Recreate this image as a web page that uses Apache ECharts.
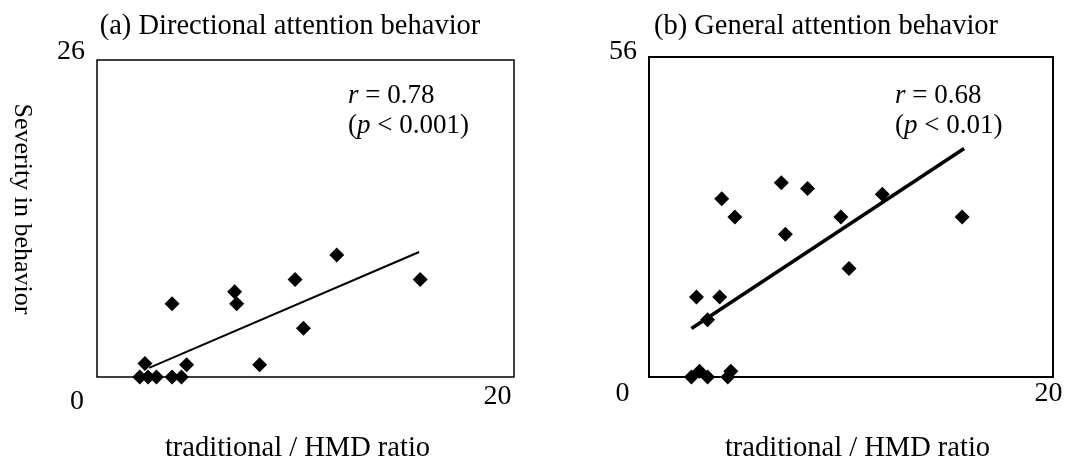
<!DOCTYPE html>
<html>
<head>
<meta charset="utf-8">
<script src="https://cdn.jsdelivr.net/npm/echarts@6/dist/echarts.min.js"></script>
<style>
html, body { margin: 0; padding: 0; background: #fff; }
#chart { width: 1067px; height: 468px; }
</style>
</head>
<body>
<div id="chart"></div>
<script>
// ---- data ----
const panelTitles = ['(a) Directional attention behavior', '(b) General attention behavior'];
const xAxisTitle = 'traditional / HMD ratio';
const yAxisTitle = 'Severity in behavior';
const xMax = 20;
const yMaxA = 26;
const yMaxB = 56;

// (a) directional attention behavior
const aX = [3.6, 6.6, 6.7, 9.5, 11.5, 15.5, 9.9, 7.8, 4.3, 2.3, 2.05, 2.45, 2.85, 3.6, 4.05];
const aY = [6, 7, 6, 8, 10, 8, 4, 1, 1, 1.1, 0, 0, 0, 0, 0];
const aTrendX = [2.5, 15.45];
const aTrendY = [0.75, 10.25];
const aStats = ['0.78', '< 0.001'];

// (b) general attention behavior
const bX = [2.35, 3.5, 2.9, 3.6, 4.25, 6.55, 7.85, 6.75, 9.5, 11.55, 9.9, 15.5, 2.1, 2.5, 2.9, 3.9, 4.05];
const bY = [14, 14, 10, 31.2, 28, 34, 33, 25, 28, 32, 19, 28, 0, 1, 0, 0, 1];
const bTrendX = [2.1, 15.6];
const bTrendY = [8.5, 40];
const bStats = ['0.68', '< 0.01'];

// ---- chart ----
const FONT = 'Liberation Serif';
const FS = 28;
const FS_TITLE = 28.5;
const FS_Y = 26;
const FS_STAT = 27;
const zip = (xs, ys) => xs.map((x, i) => [x, ys[i]]);

function xAxisFor(gi, zeroPad, maxPad, margin, namePad) {
  return {
    gridIndex: gi, type: 'value', min: 0, max: xMax, interval: xMax,
    splitLine: { show: false }, axisTick: { show: false }, axisLine: { show: false },
    axisLabel: {
      margin: margin, color: '#000', fontFamily: FONT, fontSize: FS,
      formatter: v => v === 0 ? '{z|0}' : '{m|' + v + '}',
      rich: {
        z: { fontFamily: FONT, fontSize: FS, color: '#000', padding: zeroPad },
        m: { fontFamily: FONT, fontSize: FS, color: '#000', padding: maxPad }
      }
    },
    name: xAxisTitle, nameLocation: 'middle', nameGap: 57,
    nameTextStyle: { fontFamily: FONT, fontSize: FS_TITLE, color: '#000', padding: namePad }
  };
}
function yAxisFor(gi, max, pad) {
  return {
    gridIndex: gi, type: 'value', min: 0, max: max, interval: max,
    splitLine: { show: false }, axisTick: { show: false }, axisLine: { show: false },
    axisLabel: {
      margin: 12, color: '#000', fontFamily: FONT, fontSize: FS,
      formatter: v => v === max ? '{t|' + v + '}' : '',
      rich: { t: { fontFamily: FONT, fontSize: FS, color: '#000', padding: pad } }
    }
  };
}
function statText(stats) {
  return '{i|r} = ' + stats[0] + '\n({i|p} ' + stats[1] + ')';
}
function statGraphic(x, y, stats) {
  return {
    type: 'text', x: x, y: y, z: 10,
    style: {
      text: statText(stats), fontFamily: FONT, fontSize: FS_STAT, fill: '#000',
      textAlign: 'left', textVerticalAlign: 'top', lineHeight: 30,
      rich: { i: { fontFamily: FONT, fontSize: FS_STAT, fontStyle: 'italic', fill: '#000', lineHeight: 30 } }
    }
  };
}

const chart = echarts.init(document.getElementById('chart'), null, { renderer: 'canvas' });
chart.setOption({
  animation: false,
  backgroundColor: '#fff',
  grid: [
    { left: 97, top: 60, width: 417, height: 322, show: true, borderColor: '#000', borderWidth: 1.5, backgroundColor: 'transparent' },
    { left: 649, top: 57, width: 404, height: 325, show: true, borderColor: '#000', borderWidth: 2, backgroundColor: 'transparent' }
  ],
  xAxis: [
    xAxisFor(0, [5, 40, 0, 0], [0, 33, 0, 0], 6, [0, 16, 0, 0]),
    xAxisFor(1, [0, 53, 0, 0], [0, 9, 0, 0], 3, [0, 0, 0, 13])
  ],
  yAxis: [
    yAxisFor(0, yMaxA, [0, 0, 16, 0]),
    yAxisFor(1, yMaxB, [0, 0, 10, 0])
  ],
  graphic: [
    { type: 'text', x: 290, y: 27, style: { text: panelTitles[0], fontFamily: FONT, fontSize: FS_TITLE, fill: '#000', textAlign: 'center', textVerticalAlign: 'middle' } },
    { type: 'text', x: 826, y: 27, style: { text: panelTitles[1], fontFamily: FONT, fontSize: FS_TITLE, fill: '#000', textAlign: 'center', textVerticalAlign: 'middle' } },
    { type: 'text', x: 22, y: 209, rotation: -Math.PI / 2, style: { text: yAxisTitle, fontFamily: FONT, fontSize: FS_Y, fill: '#000', textAlign: 'center', textVerticalAlign: 'middle' } },
    statGraphic(348, 81, aStats),
    statGraphic(895, 81, bStats)
  ],
  series: [
    { type: 'scatter', xAxisIndex: 0, yAxisIndex: 0, data: zip(aX, aY), symbol: 'diamond', symbolSize: 15, itemStyle: { color: '#000', opacity: 1 }, silent: true },
    { type: 'line', xAxisIndex: 0, yAxisIndex: 0, data: zip(aTrendX, aTrendY), showSymbol: false, symbol: 'none', lineStyle: { color: '#000', width: 2 }, silent: true },
    { type: 'scatter', xAxisIndex: 1, yAxisIndex: 1, data: zip(bX, bY), symbol: 'diamond', symbolSize: 15, itemStyle: { color: '#000', opacity: 1 }, silent: true },
    { type: 'line', xAxisIndex: 1, yAxisIndex: 1, data: zip(bTrendX, bTrendY), showSymbol: false, symbol: 'none', lineStyle: { color: '#000', width: 3.5 }, silent: true }
  ]
});
</script>
</body>
</html>
